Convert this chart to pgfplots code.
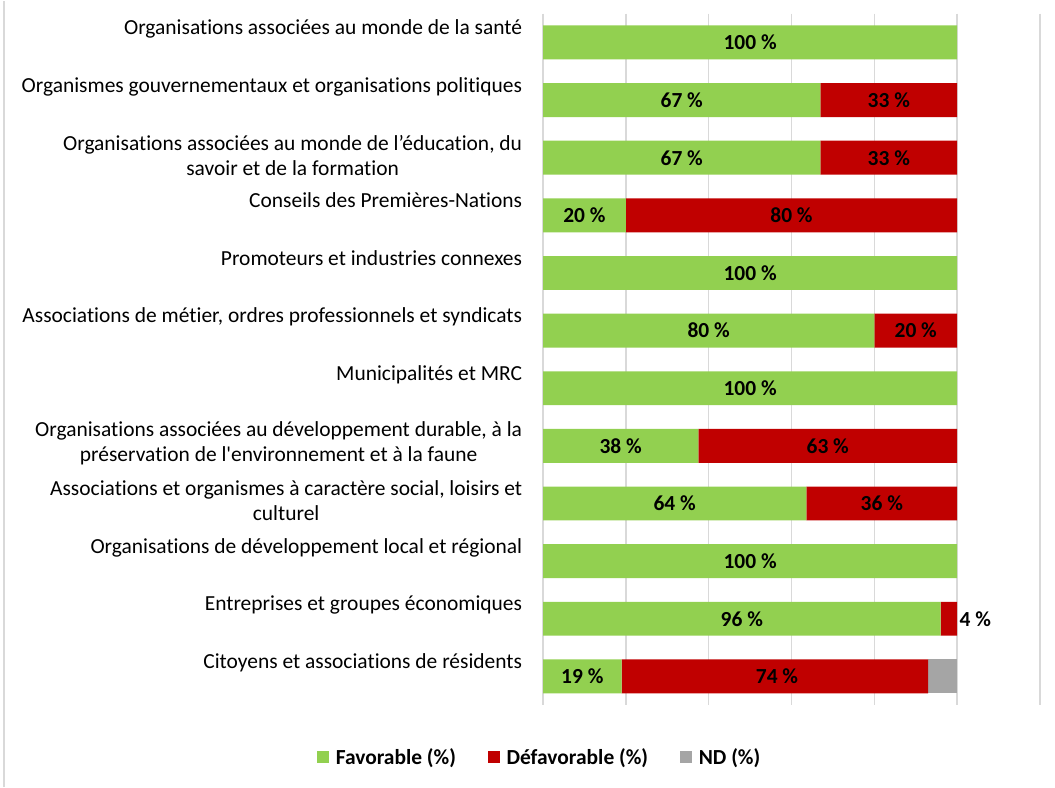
\documentclass[border=0pt]{standalone}
\usepackage{fontspec}
\setmainfont{Carlito}[Ligatures={TeX,NoCommon}]
\usepackage{pgfplots}
\pgfplotsset{compat=1.18}

\definecolor{favgreen}{HTML}{92D050}
\definecolor{defred}{HTML}{C00000}
\definecolor{ndgray}{HTML}{A5A5A5}
\definecolor{gridgray}{HTML}{D9D9D9}

\newcommand{\lblfont}{\fontsize{16.1}{18.75}\selectfont}

\pgfplotsset{
    frame/.style={
        width=373pt, height=519pt, scale only axis,
        xmin=0, xmax=120, ymin=0.5, ymax=12.5, y dir=reverse,
    },
    sq/.style={legend image code/.code={\fill[##1] (0pt,-4.5pt) rectangle (9pt,4.5pt);}},
}

\begin{document}
\begin{tikzpicture}
\begin{axis}[
    frame,
    xbar stacked,
    bar width=25.5pt,
    clip=false,
    axis line style={draw=none},
    tick style={draw=none},
    xtick={0,20,...,120},
    xticklabels={},
    xmajorgrids,
    grid style={draw=gridgray, line width=1.1pt},
    ytick={1,...,12},
    yticklabels={
        {Organisations associées au monde de la santé\\\mbox{}},
        {Organismes gouvernementaux et organisations politiques\\\mbox{}},
        {Organisations associées au monde de l’éducation, du\\savoir et de la formation},
        {Conseils des Premières-Nations\\\mbox{}},
        {Promoteurs et industries connexes\\\mbox{}},
        {Associations de métier, ordres professionnels et syndicats\\\mbox{}},
        {Municipalités et MRC\\\mbox{}},
        {Organisations associées au développement durable, à la\\préservation de l\textquotesingle environnement et à la faune},
        {Associations et organismes à caractère social, loisirs et\\culturel},
        {Organisations de développement local et régional\\\mbox{}},
        {Entreprises et groupes économiques\\\mbox{}},
        {Citoyens et associations de résidents\\\mbox{}},
    },
    yticklabel style={align=center, font=\lblfont, inner sep=0pt, xshift=-15.5pt, yshift=2pt},
    legend style={
        at={(axis description cs:-0.006,-0.075)}, anchor=center,
        draw=none, legend columns=3, font=\lblfont\bfseries,
        /tikz/every even column/.append style={column sep=22pt},
        /tikz/every odd column/.append style={column sep=3pt},
    },
]
\addplot[fill=favgreen, draw=none, sq] coordinates {
    (100,1) (67,2) (67,3) (20,4) (100,5) (80,6)
    (100,7) (37.5,8) (63.6,9) (100,10) (96,11) (19,12)
};
\addlegendentry{Favorable (\%)}
\addplot[fill=defred, draw=none, sq] coordinates {
    (0,1) (33,2) (33,3) (80,4) (0,5) (20,6)
    (0,7) (62.5,8) (36.4,9) (0,10) (4,11) (74,12)
};
\addlegendentry{Défavorable (\%)}
\addplot[fill=ndgray, draw=none, sq] coordinates {
    (0,1) (0,2) (0,3) (0,4) (0,5) (0,6)
    (0,7) (0,8) (0,9) (0,10) (0,11) (7,12)
};
\addlegendentry{ND (\%)}

% chart frame: left border and full extent of the picture
\path (axis description cs:-1.0926,-0.1185) rectangle (axis description cs:1.0302,1.0188);
\draw[gridgray, line width=1pt] (axis description cs:-1.0845,-0.1185) -- (axis description cs:-1.0845,1.0188);
\end{axis}

% value labels, same frame
\begin{axis}[frame, hide axis, clip=false]
\addplot[draw=none, mark=none, nodes near coords, point meta=explicit symbolic,
    every node near coord/.append style={anchor=center, font=\lblfont\bfseries, text=black}]
coordinates {
    (50,1) [100 \%]
    (33.5,2) [67 \%] (83.5,2) [33 \%]
    (33.5,3) [67 \%] (83.5,3) [33 \%]
    (10,4) [20 \%] (60,4) [80 \%]
    (50,5) [100 \%]
    (40,6) [80 \%] (90,6) [20 \%]
    (50,7) [100 \%]
    (18.75,8) [38 \%] (68.75,8) [63 \%]
    (31.8,9) [64 \%] (81.8,9) [36 \%]
    (50,10) [100 \%]
    (48,11) [96 \%] (104.4,11) [4 \%]
    (9.5,12) [19 \%] (56.5,12) [74 \%]
};
\end{axis}
\end{tikzpicture}
\end{document}
